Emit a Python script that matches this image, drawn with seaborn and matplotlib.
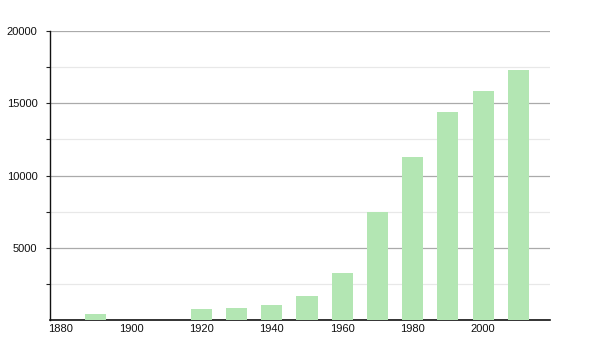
import matplotlib
matplotlib.use("Agg")
import matplotlib.pyplot as plt
import seaborn as sns
import pandas as pd

years = [1890, 1920, 1930, 1940, 1950, 1960, 1970, 1980, 1990, 2000, 2010]
population = [400, 740, 830, 1040, 1660, 3250, 7450, 11260, 14390, 15850, 17300]
y_major = [5000, 10000, 15000, 20000]
y_minor = [2500, 7500, 12500, 17500]
x_ticks = [1880, 1900, 1920, 1940, 1960, 1980, 2000]

sns.set_theme(style="white")
plt.rcParams['font.family'] = ['Liberation Sans', 'DejaVu Sans']

fig = plt.figure(figsize=(6, 3.5), dpi=100)
ax = fig.add_axes([50/600, 30/350, 500/600, 289/350])

df = pd.DataFrame({"year": years, "pop": population})
sns.barplot(data=df, x="year", y="pop", native_scale=True, width=0.6,
            color="#b3e6b3", saturation=1, linewidth=0, ax=ax, zorder=3)

ax.set_xlim(1877.0, 2019.0)
ax.set_ylim(0, 20000)

for v in y_major:
    ax.axhline(v, color="#aaaaaa", lw=0.9, zorder=1)
for v in y_minor:
    ax.axhline(v, color="#e8e8e8", lw=0.9, zorder=1)

ax.set_yticks(y_major)
ax.set_yticklabels([str(v) for v in y_major], fontsize=8, color="#111111")
ax.set_yticks(y_minor, minor=True)
ax.tick_params(axis="y", which="both", left=True, length=3, width=0.8, color="#222222", pad=6)
ax.set_xticks(x_ticks)
ax.set_xticklabels([str(v) for v in x_ticks], fontsize=8, color="#111111")
ax.tick_params(axis="x", bottom=False, length=0, pad=3)

ax.set_xlabel("")
ax.set_ylabel("")
for s in ["top", "right"]:
    ax.spines[s].set_visible(False)
ax.spines["left"].set_color("#111111")
ax.spines["left"].set_linewidth(1)
ax.spines["bottom"].set_color("#111111")
ax.spines["bottom"].set_linewidth(1.2)

fig.savefig("out.png", dpi=100)
